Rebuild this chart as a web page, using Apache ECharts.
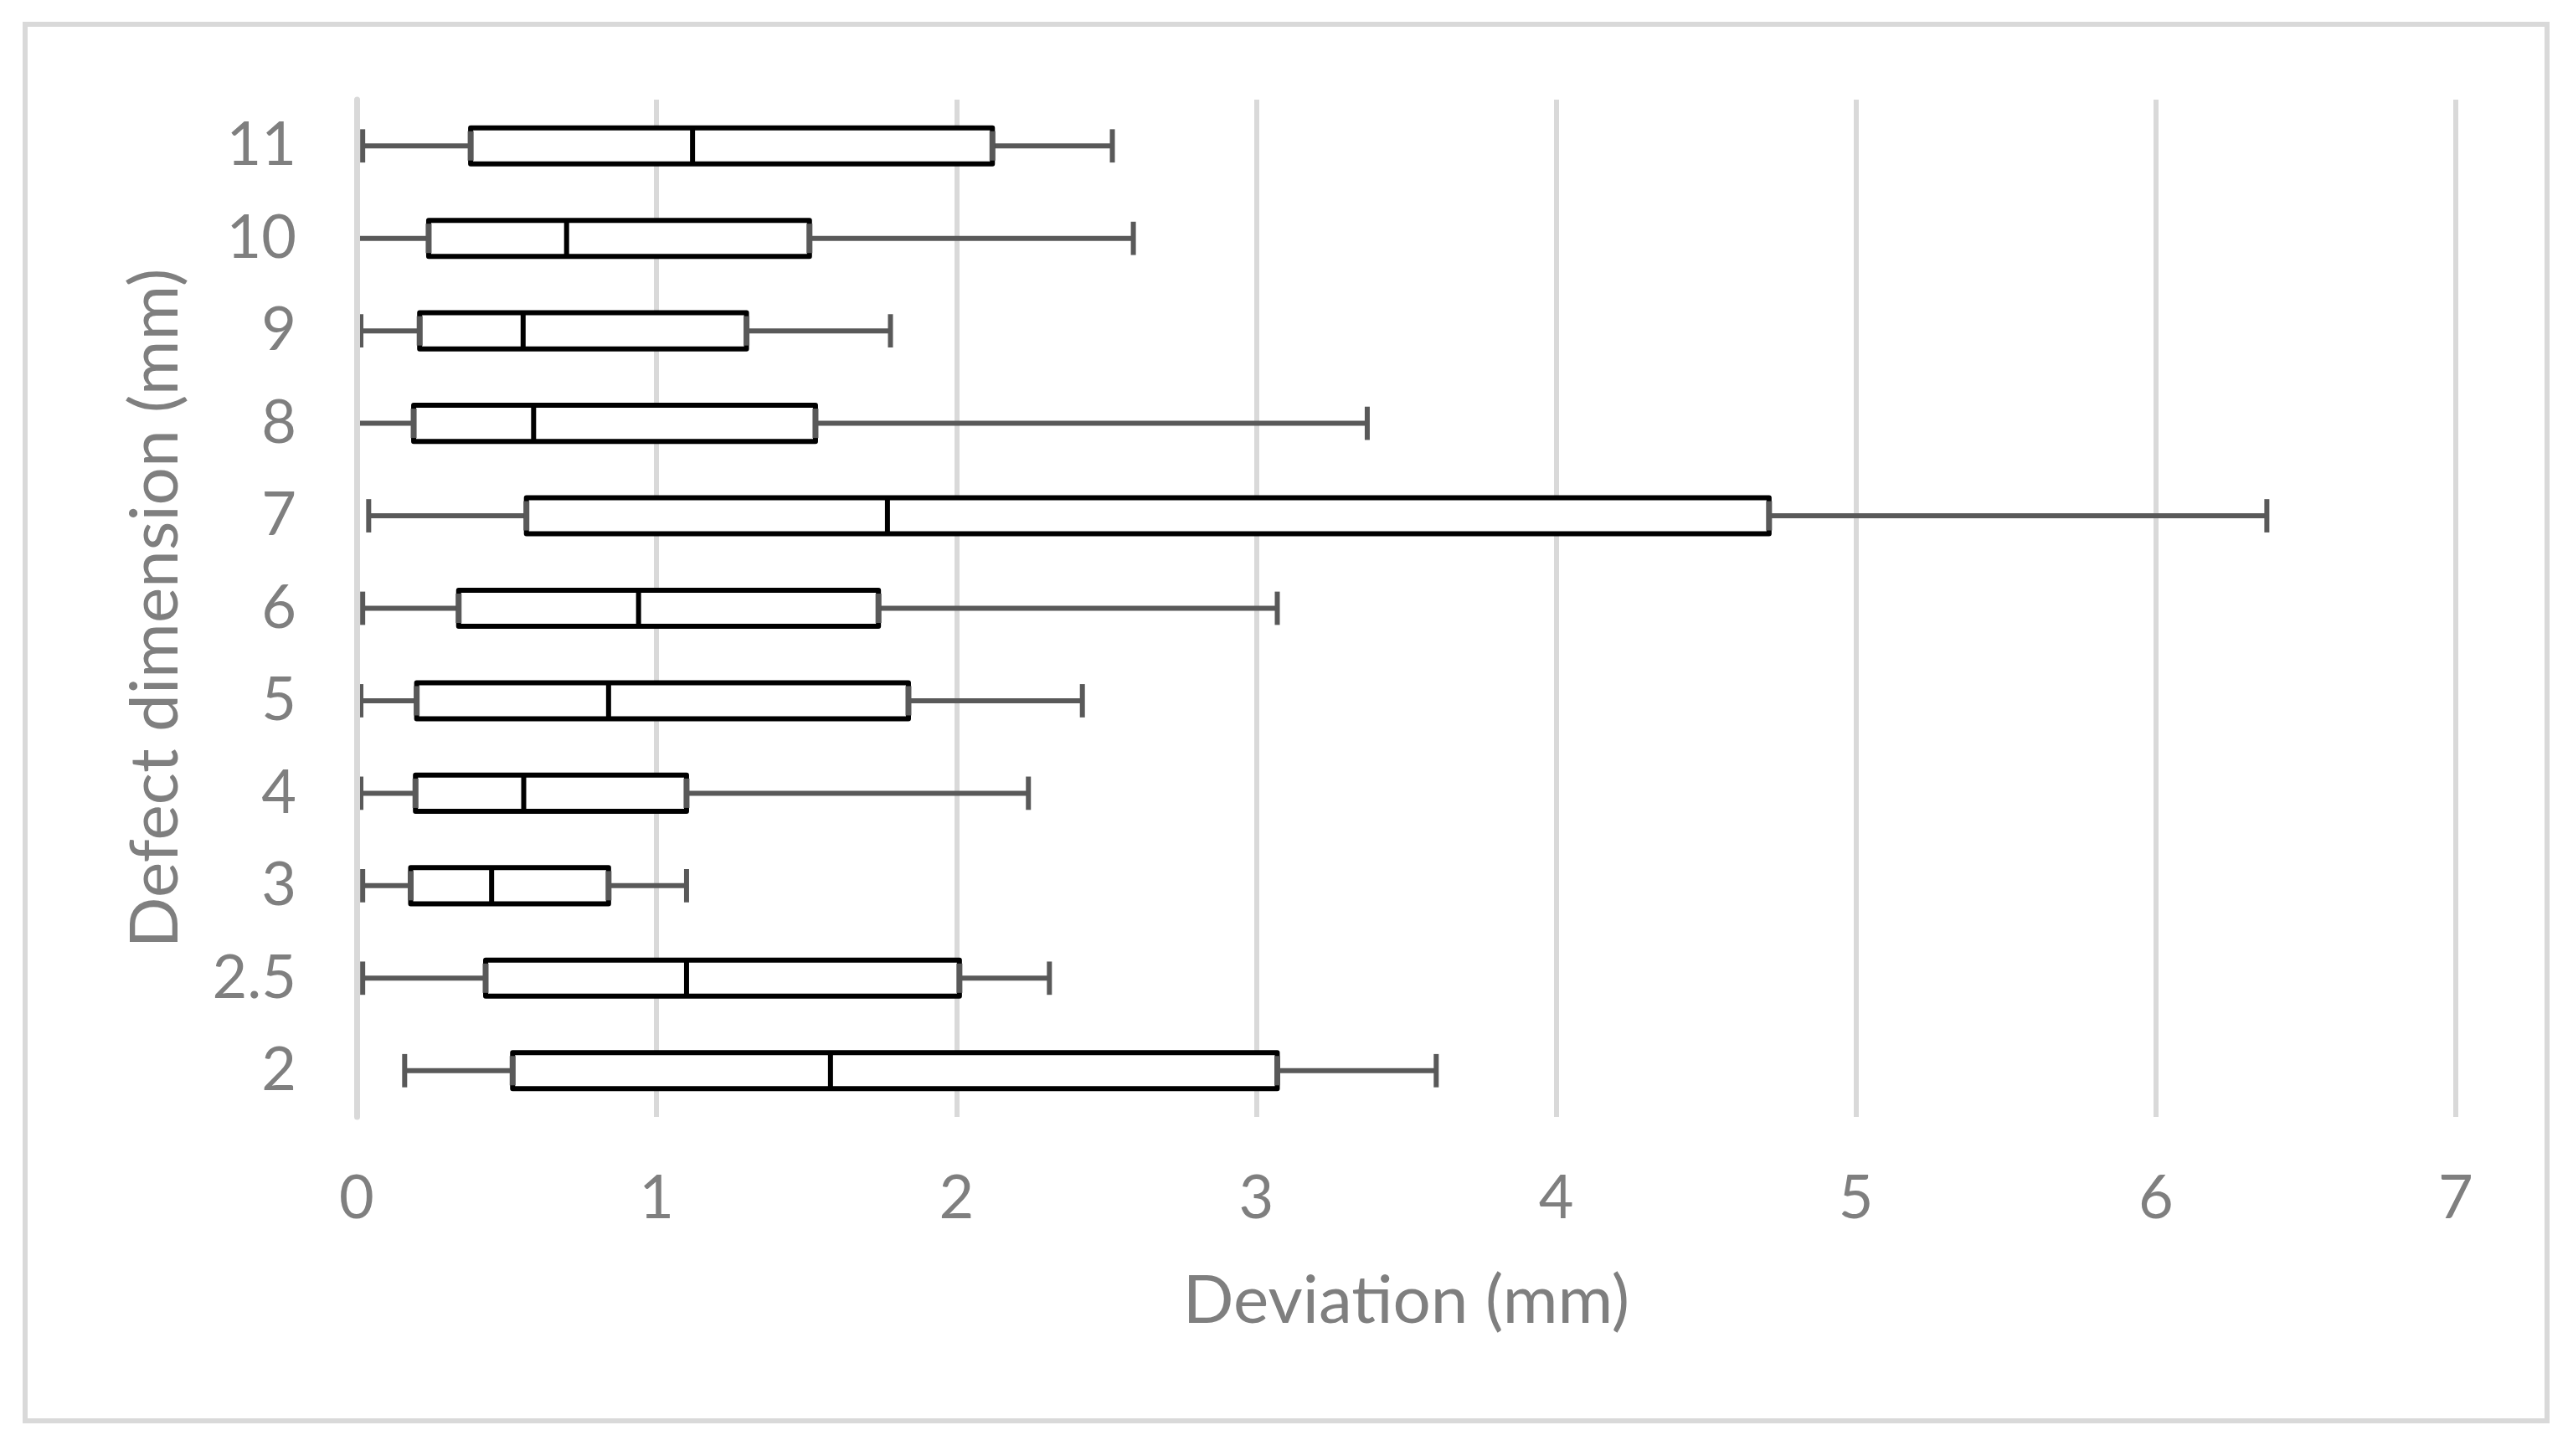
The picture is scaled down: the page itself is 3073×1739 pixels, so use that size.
<!DOCTYPE html>
<html><head><meta charset="utf-8">
<script src="https://cdn.jsdelivr.net/npm/echarts@6/dist/echarts.min.js"></script>
<style>
html,body{margin:0;padding:0;background:#fff;overflow:hidden}
#wrap{position:relative;width:3073px;height:1739px}
#c{position:absolute;left:0;top:0;width:3073px;height:1739px}
#frame{position:absolute;left:27px;top:26px;width:3006px;height:1662px;border:6px solid #d9d9d9;pointer-events:none}
</style>
</head><body><div id="wrap"><div id="c"></div><div id="frame"></div></div>
<script>
const categories = ['2','2.5','3','4','5','6','7','8','9','10','11'];
const mins    = [0.16, 0.02, 0.02, 0.014, 0.014, 0.02, 0.04, 0.0,  0.014, 0.0,  0.02];
const q1s     = [0.52, 0.43, 0.18, 0.196, 0.20,  0.34, 0.566,0.19, 0.21,  0.24, 0.38];
const medians = [1.58, 1.10, 0.45, 0.557, 0.84,  0.94, 1.77, 0.59, 0.555, 0.70, 1.12];
const q3s     = [3.07, 2.01, 0.84, 1.10,  1.84,  1.74, 4.71, 1.53, 1.30,  1.51, 2.12];
const maxs    = [3.60, 2.31, 1.10, 2.24,  2.42,  3.07, 6.37, 3.37, 1.78,  2.59, 2.52];
const xMin = 0, xMax = 7, xInterval = 1;

const data = categories.map((c, i) => [i, mins[i], q1s[i], medians[i], q3s[i], maxs[i]]);
const grey = '#595959';
const textGrey = '#7f7f7f';
const font = 'Lato, "Open Sans", sans-serif';

function renderItem(params, api) {
  const ci = api.value(0);
  const pMin = api.coord([api.value(1), ci]);
  const pQ1 = api.coord([api.value(2), ci]);
  const pMed = api.coord([api.value(3), ci]);
  const pQ3 = api.coord([api.value(4), ci]);
  const pMax = api.coord([api.value(5), ci]);
  const band = api.size([0, 1])[1];
  const y = pMin[1];
  const bh = band * 0.39, ch = band * 0.36;
  const ln = (x1, y1, x2, y2, stroke, w) => ({type: 'line', shape: {x1, y1, x2, y2}, style: {stroke, lineWidth: w}});
  return {type: 'group', children: [
    ln(pMin[0], y, pQ1[0], y, grey, 6),
    ln(pQ3[0], y, pMax[0], y, grey, 6),
    ln(pMin[0], y - ch / 2, pMin[0], y + ch / 2, grey, 6),
    ln(pMax[0], y - ch / 2, pMax[0], y + ch / 2, grey, 6),
    {type: 'rect', shape: {x: pQ1[0], y: y - bh / 2, width: pQ3[0] - pQ1[0], height: bh},
      style: {fill: '#fff', stroke: '#000', lineWidth: 6, lineJoin: 'round'}},
    ln(pMed[0], y - bh / 2, pMed[0], y + bh / 2, '#000', 6),
    ln(pQ1[0], y - bh / 2 + 4, pQ1[0], y + bh / 2 - 4, grey, 7),
    ln(pQ3[0], y - bh / 2 + 4, pQ3[0], y + bh / 2 - 4, grey, 7)
  ]};
}

const chart = echarts.init(document.getElementById('c'));
chart.setOption({
  backgroundColor: '#fff',
  animation: false,
  grid: {left: 426, right: 140, top: 119, bottom: 405},
  xAxis: {
    type: 'value', min: xMin, max: xMax, interval: xInterval,
    name: 'Deviation (mm)', nameLocation: 'middle', nameGap: 180,
    nameTextStyle: {color: textGrey, fontSize: 80, fontFamily: font},
    axisLine: {show: false}, axisTick: {show: false},
    axisLabel: {color: textGrey, fontSize: 72, fontFamily: font, margin: 62},
    splitLine: {show: true, lineStyle: {color: '#d9d9d9', width: 6}}
  },
  yAxis: {
    type: 'category', data: categories, z: 3,
    name: 'Defect dimension (mm)', nameLocation: 'middle', nameGap: 200, nameRotate: 90,
    nameTextStyle: {color: textGrey, fontSize: 80, fontFamily: font},
    axisLine: {show: true, lineStyle: {color: '#d9d9d9', width: 7}},
    axisTick: {show: false},
    axisLabel: {color: textGrey, fontSize: 72, fontFamily: font, margin: 72},
    splitLine: {show: false}
  },
  series: [{
    type: 'custom', renderItem: renderItem, data: data,
    encode: {x: [1, 2, 3, 4, 5], y: 0}, clip: false
  }]
});
</script></body></html>
